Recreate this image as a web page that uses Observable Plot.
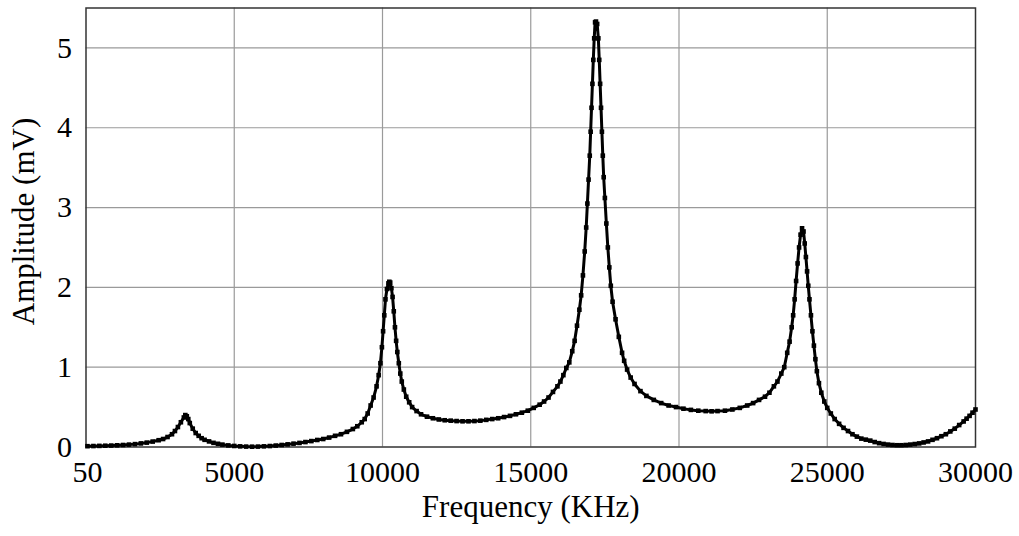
<!DOCTYPE html>
<html>
<head>
<meta charset="utf-8">
<script src="https://cdn.jsdelivr.net/npm/d3@7"></script>
<script src="https://cdn.jsdelivr.net/npm/@observablehq/plot@0.6"></script>
<style>
  html, body { margin: 0; padding: 0; background: white; }
</style>
</head>
<body>
<div id="chart"></div>
<script>
const freq = [
  50, 250, 450, 650, 850, 1050, 1250, 1450, 1650, 1850, 2050, 2250, 2450, 2600, 2750, 2900, 3000, 3100, 3200, 3300, 3350, 3400, 3450, 3500, 3600, 3700, 3800, 3900, 4000, 4150, 4300, 4450, 4600, 4800, 5000, 5200, 5400, 5600, 5800, 6000, 6200, 6400, 6600, 6800, 7000, 7200, 7400, 7600, 7800, 8000, 8200, 8400, 8600, 8800, 9000, 9150, 9300, 9400, 9500, 9600, 9700, 9800, 9870, 9930, 9980, 10020, 10060, 10100, 10150, 10200, 10230, 10260, 10300, 10340, 10380, 10420, 10460, 10500, 10550, 10600, 10650, 10720, 10800, 10900, 11000, 11150, 11300, 11500, 11700, 11900, 12100, 12300, 12500, 12700, 12900, 13100, 13300, 13500, 13700, 13900, 14100, 14300, 14500, 14700, 14900, 15100, 15300, 15450, 15600, 15750, 15900, 16000, 16100, 16200, 16300, 16400, 16480, 16560, 16640, 16700, 16760, 16820, 16870, 16910, 16950, 16990, 17020, 17050, 17080, 17110, 17140, 17170, 17200, 17240, 17280, 17310, 17340, 17370, 17400, 17430, 17460, 17500, 17550, 17600, 17650, 17700, 17760, 17860, 17970, 18080, 18150, 18250, 18370, 18500, 18700, 18900, 19150, 19400, 19650, 19900, 20150, 20400, 20650, 20900, 21100, 21300, 21550, 21800, 22050, 22300, 22500, 22700, 22900, 23050, 23200, 23320, 23450, 23550, 23650, 23730, 23800, 23850, 23900, 23950, 24000, 24050, 24100, 24150, 24200, 24240, 24280, 24320, 24360, 24400, 24450, 24500, 24550, 24600, 24650, 24720, 24800, 24900, 25000, 25120, 25250, 25400, 25550, 25700, 25850, 26000, 26150, 26300, 26450, 26600, 26750, 26900, 27050, 27200, 27350, 27500, 27650, 27800, 27950, 28100, 28250, 28400, 28550, 28700, 28850, 29000, 29150, 29300, 29450, 29600, 29700, 29800, 29900, 30000
];
const amplitude = [
  0.010, 0.012, 0.014, 0.016, 0.018, 0.021, 0.025, 0.030, 0.036, 0.045, 0.055, 0.068, 0.085, 0.10, 0.125, 0.16, 0.20, 0.25, 0.31, 0.37, 0.40, 0.385, 0.35, 0.30, 0.23, 0.175, 0.14, 0.11, 0.09, 0.07, 0.052, 0.04, 0.03, 0.02, 0.013, 0.008, 0.005, 0.004, 0.005, 0.008, 0.012, 0.018, 0.025, 0.033, 0.042, 0.051, 0.062, 0.074, 0.088, 0.10, 0.118, 0.14, 0.16, 0.19, 0.225, 0.26, 0.31, 0.35, 0.42, 0.52, 0.62, 0.76, 0.90, 1.05, 1.25, 1.45, 1.65, 1.85, 1.98, 2.05, 2.07, 2.06, 1.99, 1.88, 1.70, 1.50, 1.33, 1.19, 1.05, 0.92, 0.82, 0.72, 0.63, 0.56, 0.50, 0.45, 0.41, 0.38, 0.36, 0.345, 0.335, 0.33, 0.325, 0.322, 0.322, 0.325, 0.33, 0.34, 0.35, 0.36, 0.375, 0.39, 0.41, 0.43, 0.455, 0.49, 0.53, 0.57, 0.62, 0.69, 0.76, 0.82, 0.90, 0.99, 1.06, 1.20, 1.33, 1.52, 1.72, 1.90, 2.15, 2.45, 2.75, 3.05, 3.35, 3.65, 3.95, 4.25, 4.55, 4.85, 5.12, 5.32, 5.33, 5.30, 5.12, 4.85, 4.55, 4.25, 3.95, 3.65, 3.38, 3.12, 2.80, 2.50, 2.25, 2.02, 1.82, 1.60, 1.38, 1.18, 1.08, 0.97, 0.87, 0.79, 0.70, 0.64, 0.59, 0.55, 0.52, 0.50, 0.48, 0.465, 0.455, 0.45, 0.447, 0.45, 0.455, 0.47, 0.49, 0.52, 0.55, 0.59, 0.63, 0.68, 0.76, 0.82, 0.92, 1.00, 1.18, 1.32, 1.50, 1.65, 1.85, 2.08, 2.30, 2.50, 2.66, 2.74, 2.70, 2.55, 2.38, 2.20, 2.02, 1.85, 1.65, 1.45, 1.27, 1.10, 0.95, 0.80, 0.68, 0.57, 0.49, 0.42, 0.35, 0.29, 0.24, 0.20, 0.16, 0.13, 0.105, 0.092, 0.08, 0.062, 0.048, 0.038, 0.03, 0.025, 0.022, 0.022, 0.025, 0.03, 0.037, 0.045, 0.057, 0.07, 0.09, 0.11, 0.135, 0.16, 0.195, 0.23, 0.275, 0.32, 0.355, 0.39, 0.43, 0.47
];
const xTicks = [50, 5000, 10000, 15000, 20000, 25000, 30000];
const yTicks = [0, 1, 2, 3, 4, 5];
const xLabel = "Frequency (KHz)";
const yLabel = "Amplitude (mV)";

const data = freq.map((f, i) => ({f, a: amplitude[i]}));
const serif = "'Liberation Serif', 'DejaVu Serif', serif";

const chart = Plot.plot({
  width: 1019,
  height: 536,
  marginLeft: 85.5,
  marginRight: 44,
  marginTop: 7.5,
  marginBottom: 89.5,
  style: {fontFamily: serif, fontSize: "30px", color: "black", background: "white"},
  x: {domain: [0, 30000]},
  y: {domain: [0, 5.5]},
  marks: [
    Plot.gridX(xTicks.slice(1, -1), {stroke: "#9a9a9a", strokeOpacity: 1, strokeWidth: 1.2}),
    Plot.gridY(yTicks.slice(1), {stroke: "#9a9a9a", strokeOpacity: 1, strokeWidth: 1.2}),
    Plot.frame({stroke: "#333", strokeWidth: 1.5}),
    Plot.axisX(xTicks, {tickSize: 0, tickPadding: 14, label: null, tickFormat: d => String(d), fontSize: 30, fontFamily: serif, fill: "black"}),
    Plot.axisY(yTicks, {tickSize: 0, tickPadding: 14, label: null, tickFormat: d => String(d), fontSize: 30, fontFamily: serif, fill: "black"}),
    Plot.line(data, {x: "f", y: "a", stroke: "black", strokeWidth: 3}),
    Plot.dot(data, {x: "f", y: "a", symbol: "square", r: 2.6, fill: "black", stroke: "none"}),
    Plot.text([xLabel], {frameAnchor: "bottom", dy: 70, text: d => d, fontSize: 31, fontFamily: serif, fill: "black"}),
    Plot.text([yLabel], {frameAnchor: "left", textAnchor: "middle", dx: -62, dy: -6, rotate: -90, text: d => d, fontSize: 31, fontFamily: serif, fill: "black"})
  ]
});
document.getElementById("chart").appendChild(chart);
</script>
</body>
</html>
